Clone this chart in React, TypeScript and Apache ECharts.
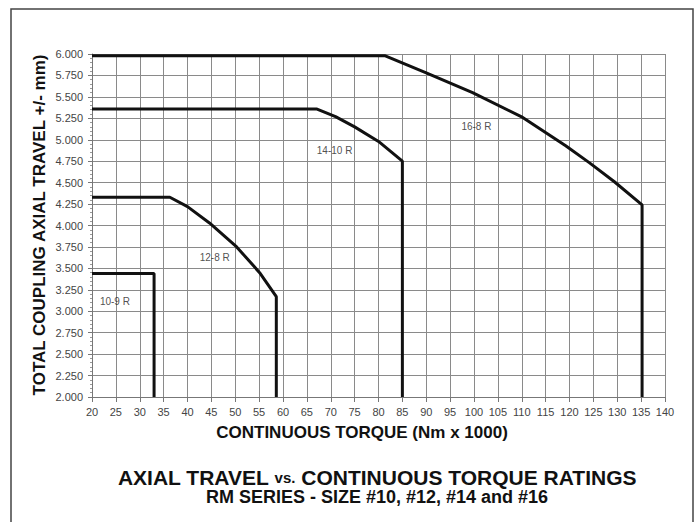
import React, { useEffect, useRef } from "react";
import * as echarts from "echarts";

const xTicks = { min: 20, max: 140, step: 5 };
const yTicks = { min: 2, max: 6, step: 0.25 };

const size10_9: [number, number][] = [[20, 3.44], [33, 3.44], [33, 2.0]];
const size12_8: [number, number][] = [
  [20, 4.33], [36.3, 4.33], [40, 4.22], [44.6, 4.03], [50.3, 3.75], [55.1, 3.45], [58.6, 3.17], [58.6, 2.0],
];
const size14_10: [number, number][] = [
  [20, 5.36], [67, 5.36], [71, 5.27], [75, 5.15], [80, 4.98], [85, 4.75], [85, 2.0],
];
const size16_8: [number, number][] = [
  [20, 5.98], [81.3, 5.98], [90, 5.78], [99.7, 5.55], [110.2, 5.26], [119.2, 4.93], [124.2, 4.73], [129.4, 4.51], [135.2, 4.24], [135.2, 2.0],
];
const curveLabels: [number, number, string][] = [
  [24.8, 3.11, "10-9 R"],
  [45.7, 3.63, "12-8 R"],
  [70.8, 4.88, "14-10 R"],
  [100.5, 5.16, "16-8 R"],
];

const titleLine1a = "AXIAL TRAVEL ";
const titleVs = "vs.";
const titleLine1b = " CONTINUOUS TORQUE RATINGS";
const titleLine2 = "RM SERIES - SIZE #10, #12, #14 and #16";
const xName = "CONTINUOUS TORQUE (Nm x 1000)";
const yName = "TOTAL COUPLING AXIAL TRAVEL +/- mm)";

export default function App() {
  const ref = useRef<HTMLDivElement>(null);
  useEffect(() => {
    if (!ref.current) return;
    const chart = echarts.init(ref.current, null, { renderer: "svg" });
    const lineStyle = { color: "#111", width: 3 };
    const mk = (name: string, data: [number, number][]) => ({
      type: "line", name, data, showSymbol: false, symbol: "none", lineStyle, z: 5,
    });
    chart.setOption({
      animation: false,
      backgroundColor: "#fff",
      grid: { left: 92, top: 54, width: 573, height: 343, containLabel: false },
      xAxis: {
        type: "value", min: xTicks.min, max: xTicks.max, interval: xTicks.step,
        axisLine: { show: true, lineStyle: { color: "#777", width: 1 } },
        axisTick: { show: true, length: 5, lineStyle: { color: "#777" } },
        splitLine: { show: true, lineStyle: { color: "#8a8a8a", width: 1 } },
        axisLabel: { color: "#444", fontSize: 11, fontFamily: "'Liberation Sans Narrow', 'Liberation Sans', Arial, sans-serif", margin: 9 },
      },
      yAxis: {
        type: "value", min: yTicks.min, max: yTicks.max, interval: yTicks.step,
        axisLine: { show: true, lineStyle: { color: "#777", width: 1 } },
        axisTick: { show: true, length: 4, lineStyle: { color: "#777" } },
        minorTick: { show: true, splitNumber: 5, length: 2, lineStyle: { color: "#999" } },
        splitLine: { show: true, lineStyle: { color: "#8a8a8a", width: 1 } },
        axisLabel: {
          color: "#444", fontSize: 11, fontFamily: "'Liberation Sans', Arial, sans-serif", margin: 9,
          formatter: (v: number) => v.toFixed(3),
        },
      },
      series: [
        mk("10-9 R", size10_9),
        mk("12-8 R", size12_8),
        mk("14-10 R", size14_10),
        mk("16-8 R", size16_8),
        {
          type: "scatter", symbolSize: 0, z: 6,
          data: curveLabels.map((d) => ({ value: [d[0], d[1]], name: d[2] })),
          label: {
            show: true, position: "inside", formatter: (p: any) => p.name,
            color: "#222", fontSize: 10, fontFamily: "'Liberation Sans Narrow', 'Liberation Sans', Arial, sans-serif",
          },
        },
      ],
      graphic: [
        {
          type: "rect", shape: { x: 11, y: 9, width: 682, height: 530 },
          style: { fill: "none", stroke: "#444", lineWidth: 1.5 }, z: -1,
        },
        {
          type: "text", x: 39, y: 225, rotation: Math.PI / 2,
          style: {
            text: yName, font: "bold 17px 'Liberation Sans', Arial, sans-serif",
            fill: "#111", textAlign: "center", textVerticalAlign: "middle",
          },
        },
        {
          type: "text", x: 362, y: 432,
          style: {
            text: xName, font: "bold 17px 'Liberation Sans', Arial, sans-serif",
            fill: "#111", textAlign: "center", textVerticalAlign: "middle",
          },
        },
        {
          type: "text", x: 377, y: 477,
          style: {
            text: `{a|${titleLine1a}}{b|${titleVs}}{a|${titleLine1b}}`,
            textAlign: "center", textVerticalAlign: "middle",
            rich: {
              a: { fontSize: 21, fontWeight: "bold", fontFamily: "'Liberation Sans', Arial, sans-serif", fill: "#111", color: "#111" },
              b: { fontSize: 15, fontWeight: "bold", fontFamily: "'Liberation Sans', Arial, sans-serif", fill: "#111", color: "#111" },
            },
          },
        },
        {
          type: "text", x: 377, y: 497,
          style: {
            text: titleLine2, font: "bold 18px 'Liberation Sans', Arial, sans-serif",
            fill: "#111", textAlign: "center", textVerticalAlign: "middle",
          },
        },
      ],
    });
    return () => chart.dispose();
  }, []);
  return <div ref={ref} style={{ position: "fixed", left: 0, top: 0, width: 697, height: 522 }} />;
}
